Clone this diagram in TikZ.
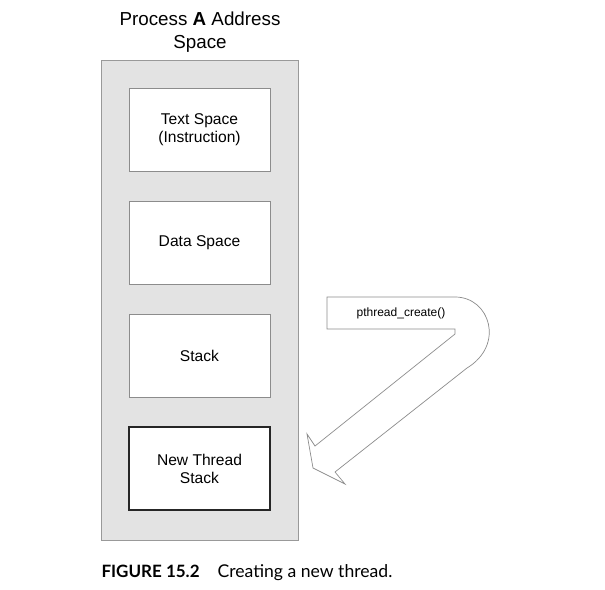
\documentclass[tikz,border=0pt]{standalone}
\usepackage{fontspec}
\setmainfont{Liberation Sans}
\newfontfamily\capfont{Lato}
\usetikzlibrary{shapes}

\begin{document}
\begin{tikzpicture}[x=1pt, y=-1pt,
space/.style={rectangle, minimum width=197pt, minimum height=480pt, draw=gray!80, fill=gray!22, line width=0.8pt},
region/.style={rectangle, minimum width=141pt, minimum height=83pt, align=center, draw=gray!90, fill=white, line width=0.8pt, font=\fontsize{15.6}{18}\selectfont},
newregion/.style={region, draw=black!85, line width=1.6pt},
]

\useasboundingbox (0,0) rectangle (605,589);

\node (AS) [space] at (199.5,300) {};
\node (title) [align=center, font=\fontsize{18.8}{23}\selectfont] at (200,32) {Process \textbf{A} Address\\Space};
\node (text) [region] at (199.5,129.5) {Text Space\\(Instruction)};
\node (data) [region] at (199.5,242.5) {Data Space};
\node (stack) [region] at (199.5,355.5) {Stack};
\node (nts) [newregion] at (199.5,468.5) {New Thread\\Stack};

% bent arrow
\draw [gray!90, line width=0.7pt, fill=white] (327,297) -- (455,297)
  .. controls (490,297) and (505,345) .. (467,368)
  -- (335,472) -- (345,484) -- (313,468) -- (307,434) -- (315,446)
  -- (455,334) -- (455,329) -- (327,329) -- cycle;
\node (call) [font=\fontsize{12}{14}\selectfont] at (401,313) {pthread\_create()};

\node (cap) [anchor=west, font=\capfont\fontsize{17}{20}\selectfont] at (98,573) {\textbf{FIGURE 15.2}\hspace{18pt}{\fontsize{17.6}{20}\selectfont Creating a new thread.}};

\end{tikzpicture}
\end{document}
